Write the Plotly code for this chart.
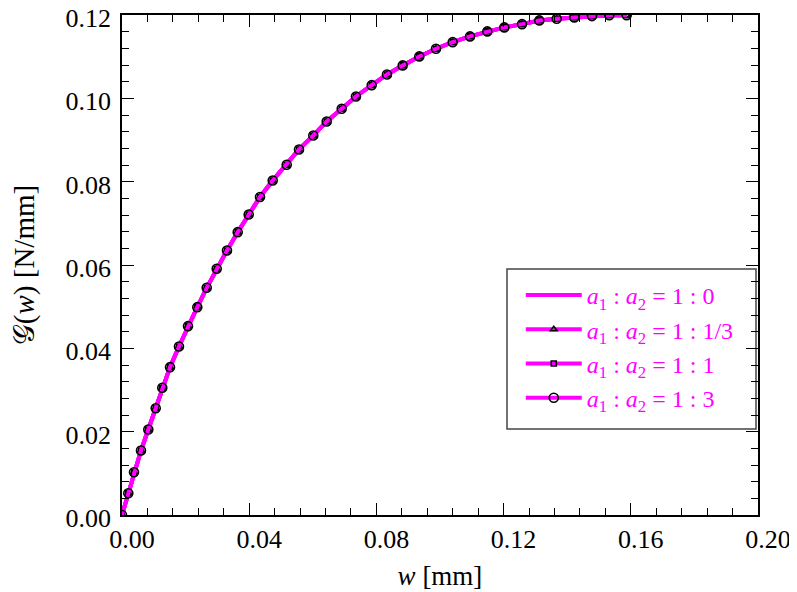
import plotly.graph_objects as go

# Data (w in mm, G in N/mm)
w_vals = [0.0, 0.00198, 0.00377, 0.00597, 0.00827, 0.0106, 0.01267, 0.0151, 0.01792, 0.02075,
          0.02368, 0.02664, 0.02978, 0.03302, 0.03638, 0.03984, 0.0434, 0.04739, 0.05179, 0.05566,
          0.06016, 0.06437, 0.06909, 0.07358, 0.07852, 0.08333, 0.08827, 0.09349, 0.09874, 0.10399,
          0.10943, 0.11487, 0.12022, 0.12579, 0.13123, 0.1367, 0.14223, 0.1478, 0.15324, 0.15871]
g_10 = [0.0, 0.00523, 0.01027, 0.01548, 0.02052, 0.02563, 0.03053, 0.03548, 0.04044, 0.04532,
        0.04988, 0.05453, 0.0591, 0.06349, 0.06788, 0.07213, 0.07633, 0.08029, 0.08406, 0.08773,
        0.09109, 0.09445, 0.0975, 0.10045, 0.10317, 0.10573, 0.1079, 0.11006, 0.1119, 0.11349,
        0.11486, 0.11606, 0.11702, 0.11781, 0.1187, 0.11911, 0.11942, 0.11973, 0.11997, 0.11997]
g_113 = list(g_10)
g_11 = list(g_10)
g_13 = list(g_10)

names = [
    "<i>a</i><sub>1</sub> : <i>a</i><sub>2</sub> = 1 : 0",
    "<i>a</i><sub>1</sub> : <i>a</i><sub>2</sub> = 1 : 1/3",
    "<i>a</i><sub>1</sub> : <i>a</i><sub>2</sub> = 1 : 1",
    "<i>a</i><sub>1</sub> : <i>a</i><sub>2</sub> = 1 : 3",
]
x_ticks = [0.0, 0.04, 0.08, 0.12, 0.16, 0.20]
y_ticks = [0.0, 0.02, 0.04, 0.06, 0.08, 0.10, 0.12]

MAG = "#ff00ff"
FONT = "Liberation Serif"

fig = go.Figure()
fig.add_trace(go.Scatter(x=w_vals, y=g_10, mode="lines", name=names[0], legendgroup="a",
                         line=dict(color=MAG, width=4)))
specs = [(g_113, "triangle-up-open", 6, names[1], "b"),
         (g_11, "square-open", 5, names[2], "c"),
         (g_13, "circle-open", 9, names[3], "d")]
for g, sym, sz, nm, grp in specs:
    fig.add_trace(go.Scatter(x=w_vals, y=g, mode="lines+markers", name=nm, legendgroup=grp,
                             line=dict(color=MAG, width=4),
                             marker=dict(symbol=sym, size=sz, color="black",
                                         line=dict(color="black", width=1.6))))

axis_common = dict(
    showline=True, linecolor="black", linewidth=1.5, mirror="ticks",
    ticks="inside", ticklen=12, tickwidth=1.3, tickcolor="black",
    showgrid=False, zeroline=False, automargin=False, ticklabeloverflow="allow",
    tickfont=dict(family=FONT, size=26, color="black"),
)
fig.update_xaxes(range=[0, 0.2], tickvals=x_ticks, ticktext=[f"{v:.2f}" for v in x_ticks],
                 minor=dict(ticks="inside", ticklen=7, tickwidth=1.3, tickcolor="black", dtick=0.008, showgrid=False),
                 ticklabelshift=10, ticklabelstandoff=0,
                 title=dict(text="<i>w</i> [mm]", font=dict(family=FONT, size=27, color="black"), standoff=13),
                 **axis_common)
fig.update_yaxes(range=[0, 0.12], tickvals=y_ticks, ticktext=[f"{v:.2f}" for v in y_ticks],
                 minor=dict(ticks="inside", ticklen=7, tickwidth=1.3, tickcolor="black", dtick=0.004, showgrid=False),
                 ticklabelshift=3, ticklabelstandoff=4,
                 title=dict(text="𝒢(<i>w</i>) [N/mm]", font=dict(family=FONT, size=29, color="black"), standoff=30),
                 **axis_common)

# legend frame
fig.add_shape(type="rect", xref="paper", yref="paper",
              x0=(507 - 122) / 636, x1=(756 - 122) / 636,
              y0=(515 - 429) / 500, y1=(515 - 269) / 500,
              line=dict(color="#444444", width=1.5), fillcolor="white", layer="below")

fig.update_layout(
    width=797, height=592,
    margin=dict(l=114, r=47, t=7, b=85),
    paper_bgcolor="white", plot_bgcolor="white",
    legend=dict(x=0.627, y=0.484, xanchor="left", yanchor="top",
                borderwidth=0, bgcolor="rgba(0,0,0,0)",
                font=dict(family=FONT, size=24, color=MAG),
                tracegroupgap=0, itemwidth=56),
    showlegend=True,
)

fig.write_html("out.html")
